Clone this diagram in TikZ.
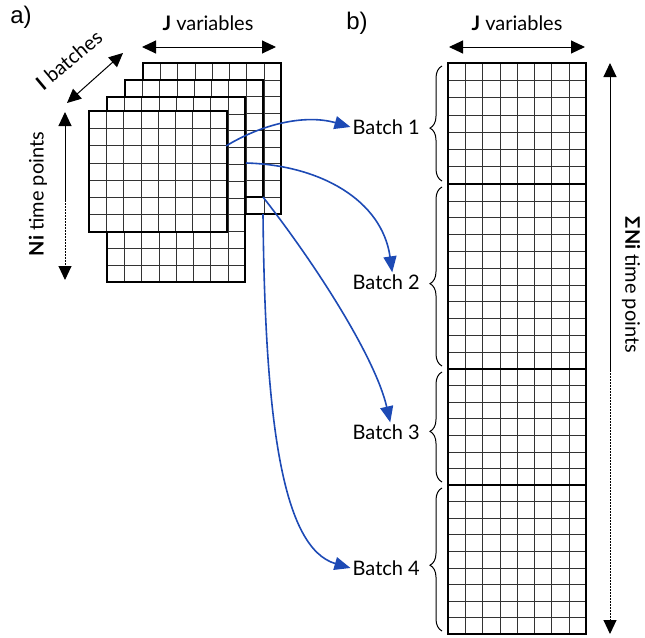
\documentclass[tikz,border=0pt]{standalone}
\usepackage{fontspec}
\setmainfont{Lato}
\newfontfamily\panelfont{Liberation Sans}
\usetikzlibrary{arrows.meta,decorations.pathreplacing}
\definecolor{arrblue}{HTML}{1D4AB5}

% one grid sheet: left, top, bottom, rows
\newcommand{\gridsheet}[4]{%
  \fill[white] (#1,#2) rectangle (#1+138,#3);
  \foreach \c in {1,...,7} \draw[gridline] ({#1+\c*17.25},#2) -- ({#1+\c*17.25},#3);
  \foreach \r in {1,...,#4} \draw[gridline] (#1,{#2+\r*(#3-#2)/#4}) -- (#1+138,{#2+\r*(#3-#2)/#4});
  \draw[sheetline] (#1,#2) rectangle (#1+138,#3);
}

\tikzset{
  gridline/.style={line width=0.5pt, black!80},
  sheetline/.style={line width=1.5pt},
  tip/.tip={Triangle[length=14pt,width=13pt]},
  dimarrow/.style={line width=1pt, tip-tip},
  batcharrow/.style={line width=1.6pt, arrblue, -{Triangle[length=16pt,width=13pt]}},
  batchbrace/.style={decorate, decoration={brace, amplitude=12pt, aspect=0.46}, line width=1pt},
  lbl/.style={font=\fontsize{20}{24}\selectfont, inner sep=2pt}
}

\begin{document}
\begin{tikzpicture}[x=1pt, y=-1pt]
\useasboundingbox (0,0) rectangle (645,637);

% a) stacked batches
\node[font=\panelfont\fontsize{24}{28}\selectfont] (pa) at (21,17) {a)};
\gridsheet{143}{63}{214}{9}
\gridsheet{125}{80}{197}{7}
\gridsheet{107}{97}{282}{11}
\gridsheet{89}{111}{232}{7}

\node[lbl] (ja) at (208,23) {\textbf{J} variables};
\coordinate (ja1) at (142,47); \coordinate (ja2) at (276,47);
\draw[dimarrow] (ja1) -- (ja2);

\node[lbl, rotate=40] (ib) at (69,60) {\textbf{I} batches};
\coordinate (ib1) at (67,103); \coordinate (ib2) at (123,53);
\draw[dimarrow] (ib1) -- (ib2);

\node[lbl, rotate=90] (na) at (38,194) {\textbf{Ni} time points};
\coordinate (na1) at (65,112); \coordinate (na2) at (65,200); \coordinate (na3) at (65,280);
\draw[line width=1pt, tip-] (na1) -- (na2);
\draw[line width=1pt, -tip, dash pattern=on 2pt off 1pt] (na2) -- (na3);

% b) unfolded matrix
\node[font=\panelfont\fontsize{24}{28}\selectfont] (pb) at (357,23) {b)};
\gridsheet{448}{63}{184}{7}
\gridsheet{448}{184}{369}{11}
\gridsheet{448}{369}{485}{7}
\gridsheet{448}{485}{634}{9}

\node[lbl] (jb) at (517,23) {\textbf{J} variables};
\coordinate (jb1) at (449,47); \coordinate (jb2) at (585,47);
\draw[dimarrow] (jb1) -- (jb2);

\node[lbl, rotate=-90] (nb) at (631,285) {\textbf{ΣNi} time points};
\coordinate (nb1) at (610,63); \coordinate (nb2) at (610,370); \coordinate (nb3) at (610,634);
\draw[line width=1pt, tip-] (nb1) -- (nb2);
\draw[line width=1pt, -tip, dash pattern=on 2pt off 1pt] (nb2) -- (nb3);

% braces and batch labels
\draw[batchbrace] (442,181) -- (442,66);
\draw[batchbrace] (442,366) -- (442,187);
\draw[batchbrace] (442,482) -- (442,372);
\draw[batchbrace] (442,631) -- (442,488);
\node[lbl, anchor=east] (b1) at (422,127) {Batch 1};
\node[lbl, anchor=east] (b2) at (422,282) {Batch 2};
\node[lbl, anchor=east] (b3) at (422,432) {Batch 3};
\node[lbl, anchor=east] (b4) at (422,568) {Batch 4};

% batch arrows
\coordinate (s1) at (226,146);
\coordinate (s2) at (246,163);
\coordinate (s3) at (263,197);
\coordinate (s4) at (263,214);
\draw[batcharrow] (s1) .. controls (262,124) and (305,114) .. (b1.west);
\draw[batcharrow] (s2) .. controls (320,165) and (382,200) .. ([xshift=6]b2.north);
\draw[batcharrow] (s3) .. controls (320,270) and (376,360) .. ([xshift=4]b3.north);
\draw[batcharrow] (s4) .. controls (265,420) and (282,548) .. (b4.west);
\end{tikzpicture}
\end{document}
